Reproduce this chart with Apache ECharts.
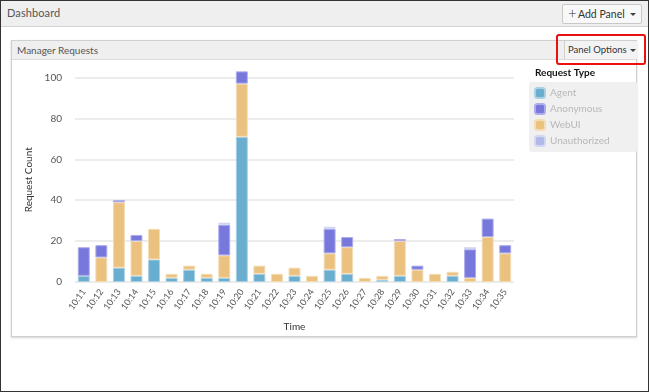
<!DOCTYPE html>
<html>
<head>
<meta charset="utf-8">
<script src="https://cdn.jsdelivr.net/npm/echarts@6/dist/echarts.min.js"></script>
<style>
  html, body { margin:0; padding:0; width:649px; height:392px; overflow:hidden; background:#fff; font-family:Lato,"Noto Sans",sans-serif; }
  span { white-space:nowrap; }
  .frame { position:absolute; left:0; top:0; width:647px; height:390px; border:1px solid #333; }
  .hdr { position:absolute; left:1px; top:1px; width:647px; height:25px; background:#efefef; border-bottom:1px solid #d3d3d3; }
  .hdr .t { position:absolute; left:6px; top:5px; font-size:11px; color:#555; letter-spacing:0.1px; }
  .addbtn { position:absolute; left:562px; top:4px; width:78px; height:18px; border:1px solid #c8c8c8; border-radius:2px; background:#f8f8f8; font-size:10.5px; color:#333; line-height:18px; }
  .addbtn .p { position:absolute; left:5px; top:-1px; font-size:15px; font-weight:300; }
  .addbtn .l { position:absolute; left:15px; top:0; }
  .caret { position:absolute; width:0; height:0; border-left:3px solid transparent; border-right:3px solid transparent; border-top:3px solid #444; }
  .panel { position:absolute; left:11px; top:40px; width:624px; height:295px; border:1px solid #cfcfcf; box-shadow:0 1px 2px rgba(0,0,0,0.18); background:#fff; }
  .phdr { position:absolute; left:0; top:0; width:624px; height:18px; background:#efefef; border-bottom:1px solid #dcdcdc; }
  .phdr .t { position:absolute; left:5px; top:3px; font-size:10px; color:#555; }
  .popt { position:absolute; left:552px; top:0; width:72px; height:18px; border-left:1px solid #cfcfcf; background:#f3f3f3; font-size:9.5px; color:#333; line-height:18px; }
  .red { position:absolute; left:556px; top:34px; width:86px; height:27px; border:2px solid #e81010; border-radius:3px; }
  #chart { position:absolute; left:0; top:0; width:649px; height:392px; }
</style>
</head>
<body>
<div class="frame"></div>
<div class="hdr"><span class="t">Dashboard</span></div>
<div class="addbtn"><span class="p">+</span><span class="l">Add Panel</span><span class="caret" style="left:67px;top:8px"></span></div>
<div class="panel">
  <div class="phdr"><span class="t">Manager Requests</span>
    <div class="popt"><span style="position:absolute;left:3px;">Panel Options</span><span class="caret" style="left:65px;top:8px"></span></div>
  </div>
</div>
<div class="red"></div>
<div id="chart"></div>
<script>
const categories = ['10:11','10:12','10:13','10:14','10:15','10:16','10:17','10:18','10:19','10:20','10:21','10:22','10:23','10:24','10:25','10:26','10:27','10:28','10:29','10:30','10:31','10:32','10:33','10:34','10:35'];
const agent        = [3, 0, 7, 3, 11, 2, 6, 2, 2, 71, 4, 0, 3, 0, 6, 4, 0, 1, 3, 0, 0, 3, 0, 0, 0];
const webui        = [0, 12, 32, 17, 15, 2, 2, 2, 11, 26, 4, 4, 4, 3, 8, 13, 2, 2, 17, 6, 4, 2, 2, 22, 14];
const anonymous    = [14, 6, 1, 3, 0, 0, 0, 0, 15, 6, 0, 0, 0, 0, 12, 5, 0, 0, 1, 2, 0, 0, 14, 9, 4];
const unauthorized = [0, 0, 0, 0, 0, 0, 0, 0, 1, 0, 0, 0, 0, 0, 1, 0, 0, 0, 0, 0, 0, 0, 1, 0, 0];
const yTicks = [0, 20, 40, 60, 80, 100];

const colors = { Agent:'#6aaecf', Anonymous:'#7777dc', WebUI:'#ebc17f', Unauthorized:'#b1b9e8' };
const borders = { Agent:'#a9d0e3', Anonymous:'#acacec', WebUI:'#f5dcb5', Unauthorized:'#d3d8f2' };
const fnt = 'Lato,"Noto Sans",sans-serif';
function mk(name, arr) {
  return { name, type:'bar', stack:'all', barWidth:'68%', clip:false,
    data: arr.map(v => v === 0 ? null : v),
    itemStyle:{ color:colors[name], borderColor:borders[name], borderWidth:1 } };
}
const chart = echarts.init(document.getElementById('chart'));
chart.setOption({
  animation:false,
  textStyle:{ fontFamily:fnt },
  title:{ text:'Request Type', left:535, top:68, padding:0, textStyle:{ fontSize:10, fontWeight:'bold', color:'#111', fontFamily:fnt } },
  legend:{ orient:'vertical', left:529, top:82, data:['Agent','Anonymous','WebUI','Unauthorized'],
    itemWidth:10, itemHeight:10, itemGap:4, padding:[5,28,5,5], backgroundColor:'#f0f0f0', borderRadius:3,
    icon:'roundRect', selectedMode:false, textStyle:{ color:'#b8b8b8', fontSize:10, lineHeight:10, fontFamily:fnt } },
  grid:{ left:75, right:135, top:77.5, bottom:110 },
  xAxis:{ type:'category', data:categories, name:'Time', nameLocation:'middle', nameGap:40,
    nameTextStyle:{ fontSize:10, color:'#333' },
    axisLine:{ show:false }, axisTick:{ show:false },
    axisLabel:{ rotate:55, fontSize:9, color:'#555', margin:8, interval:0 } },
  yAxis:{ type:'value', min:yTicks[0], max:yTicks[yTicks.length-1], interval:20, name:'Request Count', nameLocation:'middle', nameGap:37,
    nameTextStyle:{ fontSize:10, color:'#333' },
    axisLine:{ show:false }, axisTick:{ show:false },
    axisLabel:{ fontSize:10, color:'#555', margin:13 },
    splitLine:{ lineStyle:{ color:'#e6e6e6', width:1.5 } } },
  series:[ mk('Agent', agent), mk('WebUI', webui), mk('Anonymous', anonymous), mk('Unauthorized', unauthorized) ]
});
</script>
</body>
</html>
